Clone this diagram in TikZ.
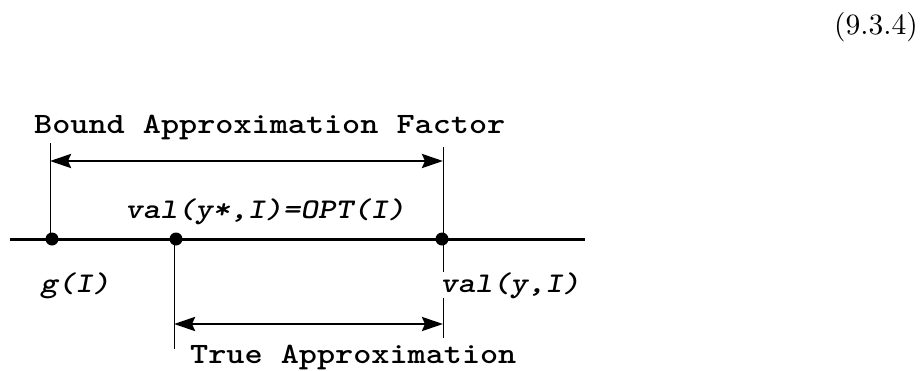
\documentclass[tikz,border=0pt]{standalone}
\usepackage{fontspec}
\newfontfamily\courb[FakeStretch=1.17]{lmmonolt10-bold.otf}
\newfontfamily\couri[FakeStretch=1.17]{lmmonolt10-boldoblique.otf}
\newfontfamily\eqf{lmroman10-regular.otf}
\usetikzlibrary{arrows.meta}
\begin{document}
\begin{tikzpicture}[x=1pt,y=-1pt,
  axis/.style={line width=3pt},
  guide/.style={line width=1pt},
  dimarrow/.style={line width=2.8pt,{Stealth[length=21pt,width=14pt,inset=3pt]}-{Stealth[length=21pt,width=14pt,inset=3pt]}},
  dotmark/.style={circle,fill=black,inner sep=0pt,minimum size=13pt},
  lab/.style={font=\couri\fontsize{28.5}{30}\selectfont,inner sep=0pt,anchor=base west},
  ttl/.style={font=\courb\fontsize{29.5}{32}\selectfont,inner sep=0pt,anchor=base west}]
\useasboundingbox (0,0) rectangle (922,370);
% equation number
\node[font=\eqf\fontsize{29.5}{32}\selectfont,inner sep=0pt,anchor=base east] (eq) at (918,34) {(9.3.4)};
% main axis
\coordinate (L) at (10,239);
\coordinate (R) at (585,239);
\draw[axis] (L) -- (R);
% guide lines
\coordinate (gt) at (50,143);
\coordinate (gb) at (50,239);
\coordinate (vt) at (443,147);
\coordinate (vb) at (443,338);
\coordinate (ot) at (174,239);
\coordinate (ob) at (174,349);
\draw[guide] (gt) -- (gb);
\draw[guide] (vt) -- (vb);
\draw[guide] (ot) -- (ob);
% labels
\node[ttl] (title) at (34,133) {Bound Approximation Factor};
\node[lab] (opt) at (125,218) {val(y*,I)=OPT(I)};
\node[lab] (gI) at (40,292) {g(I)};
\node[lab,fill=white,inner sep=0pt] (valy) at (440,292) {val(y,I)};
\node[ttl] (true) at (190,363) {True Approximation};
% dimension arrows
\coordinate (a1) at (50,161);
\coordinate (a2) at (443,161);
\coordinate (b1) at (174,324);
\coordinate (b2) at (443,324);
\draw[dimarrow] (a1) -- (a2);
\draw[dimarrow] (b1) -- (b2);
% dots
\node[dotmark] (g) at (52,239) {};
\node[dotmark] (o) at (176,239) {};
\node[dotmark] (v) at (442,239) {};
\end{tikzpicture}
\end{document}
